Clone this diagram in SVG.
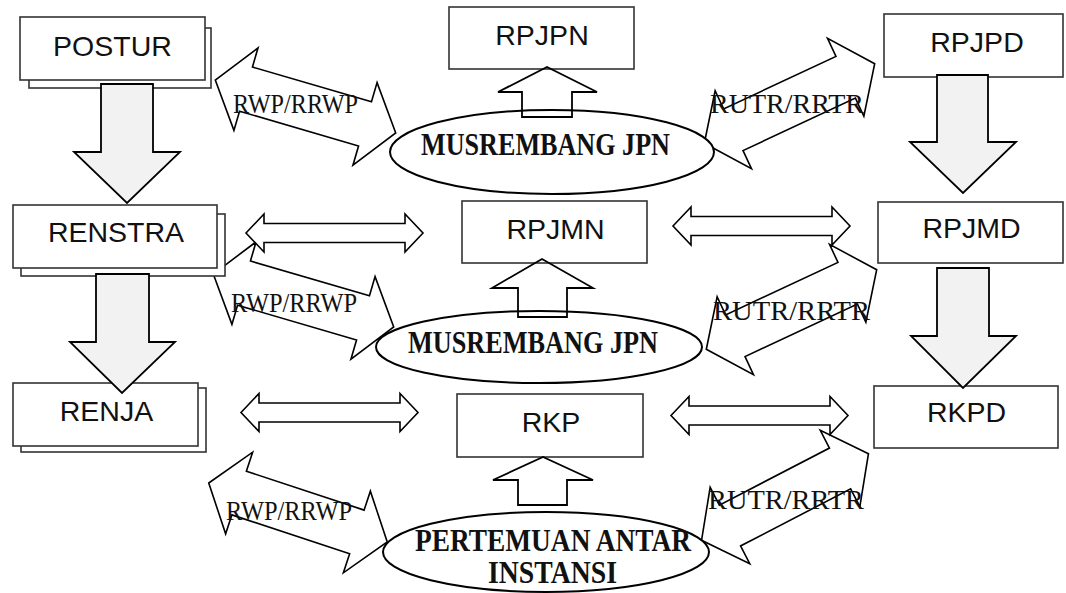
<svg xmlns="http://www.w3.org/2000/svg" width="1066" height="593" viewBox="0 0 1066 593">
<style>
.box{fill:#fff;stroke:#333;stroke-width:1.6}
.big{fill:#fff;stroke:#000;stroke-width:1.6;stroke-linejoin:miter}
.harr{fill:#fff;stroke:#000;stroke-width:1.6}
.ell{fill:#fff;stroke:#000;stroke-width:2}
.up{fill:none;stroke:#000;stroke-width:1.8}
.down{fill:#f2f2f2;stroke:#000;stroke-width:1.8}
.lbl{font-family:"Liberation Sans",Arial,sans-serif;font-size:28.5px;fill:#111;text-anchor:middle}
.et{font-family:"Liberation Serif","Times New Roman",serif;font-weight:bold;font-size:31px;fill:#111}
.rt{font-family:"Liberation Serif","Times New Roman",serif;font-size:28px;fill:#111}
</style>
<defs>
<path id="dbl" d="M-94,0 L-62,-43 L-62,-23 L62,-23 L62,-43 L94,0 L62,43 L62,23 L-62,23 L-62,43 Z"/>
<path id="hdbl" d="M-88.5,0 L-70.5,-19 L-70.5,-9.5 L70.5,-9.5 L70.5,-19 L88.5,0 L70.5,19 L70.5,9.5 L-70.5,9.5 L-70.5,19 Z"/>
</defs>
<g id="connectors">
<use href="#dbl" class="big" transform="translate(305.5,106.5) rotate(16.3)"/>
<use href="#dbl" class="big" transform="translate(303.5,300.5) rotate(16.3)"/>
<use href="#dbl" class="big" transform="translate(298,512.5) rotate(18.3)"/>
<use href="#dbl" class="big" transform="translate(789.5,103.5) rotate(-25)"/>
<use href="#dbl" class="big" transform="translate(791.5,309.5) rotate(-25)"/>
<use href="#dbl" class="big" transform="translate(785,497) rotate(-27.4)"/>
<use href="#hdbl" class="harr" transform="translate(334.5,233)"/>
<use href="#hdbl" class="harr" transform="translate(761.5,226)"/>
<use href="#hdbl" class="harr" transform="translate(329.5,412.5)"/>
<use href="#hdbl" class="harr" transform="translate(759.5,415.5)"/>
</g>
<g id="postur">
<rect class="box" x="29" y="28" width="182" height="60"/>
<rect class="box" x="20" y="17" width="185" height="63"/>
<text class="lbl" x="112.5" y="56">POSTUR</text>
</g>
<g id="renstra">
<rect class="box" x="21" y="214" width="204" height="62"/>
<rect class="box" x="13" y="205" width="204" height="63"/>
<text class="lbl" x="116" y="242">RENSTRA</text>
</g>
<g id="renja">
<rect class="box" x="21" y="388" width="185" height="64"/>
<rect class="box" x="13" y="383" width="185" height="63"/>
<text class="lbl" x="106.5" y="421">RENJA</text>
</g>
<g id="rpjpn">
<rect class="box" x="449" y="7" width="185" height="62"/>
<text class="lbl" x="542" y="45">RPJPN</text>
</g>
<g id="rpjmn">
<rect class="box" x="462" y="201" width="185" height="62"/>
<text class="lbl" x="555.5" y="239">RPJMN</text>
</g>
<g id="rkp">
<rect class="box" x="457" y="394" width="186" height="63"/>
<text class="lbl" x="551" y="432">RKP</text>
</g>
<g id="rpjpd">
<rect class="box" x="884" y="14" width="179" height="63"/>
<text class="lbl" x="977" y="52">RPJPD</text>
</g>
<g id="rpjmd">
<rect class="box" x="878" y="202" width="185" height="61"/>
<text class="lbl" x="971.5" y="238">RPJMD</text>
</g>
<g id="rkpd">
<rect class="box" x="874" y="386" width="184" height="62"/>
<text class="lbl" x="966.5" y="422">RKPD</text>
</g>
<g id="down-arrows">
<path class="down" d="M101,84 L153,84 L153,152 L180,152 L127,203 L74,152 L101,152 Z"/>
<path class="down" d="M96,274 L149,274 L149,342 L175,342 L122,393 L70,342 L96,342 Z"/>
<path class="down" d="M937,75 L988,75 L988,142 L1016,142 L963,193 L910,142 L937,142 Z"/>
<path class="down" d="M937,268 L989,268 L989,336 L1016,336 L963,388 L911,336 L937,336 Z"/>
</g>
<g id="musrembang1">
<ellipse class="ell" cx="552" cy="152" rx="162" ry="42"/>
<text class="et" x="421" y="155" textLength="249" lengthAdjust="spacingAndGlyphs">MUSREMBANG JPN</text>
</g>
<g id="musrembang2">
<ellipse class="ell" cx="539" cy="347" rx="163" ry="36"/>
<text class="et" x="408" y="353" textLength="250" lengthAdjust="spacingAndGlyphs">MUSREMBANG JPN</text>
</g>
<g id="pertemuan">
<ellipse class="ell" cx="546" cy="552" rx="163" ry="40"/>
<text class="et" x="415" y="551" textLength="276" lengthAdjust="spacingAndGlyphs">PERTEMUAN ANTAR</text>
<text class="et" x="488" y="583" textLength="129" lengthAdjust="spacingAndGlyphs">INSTANSI</text>
</g>
<g id="up-arrows">
<path class="up" d="M522,117 L522,92 L498,92 L547,67 L597,92 L572,92 L572,117 Z"/>
<path class="up" d="M518,317 L518,288 L492,288 L542,259 L593,288 L567,288 L567,317 Z"/>
<path class="up" d="M518,505 L518,480 L493,480 L543,457 L593,480 L567,480 L567,505 Z"/>
</g>
<g id="labels">
<text class="rt" x="233" y="113" textLength="125" lengthAdjust="spacingAndGlyphs">RWP/RRWP</text>
<text class="rt" x="231" y="312" textLength="126" lengthAdjust="spacingAndGlyphs">RWP/RRWP</text>
<text class="rt" x="226" y="520" textLength="126" lengthAdjust="spacingAndGlyphs">RWP/RRWP</text>
<text class="rt" x="710" y="113" textLength="154" lengthAdjust="spacingAndGlyphs">RUTR/RRTR</text>
<text class="rt" x="713" y="320" textLength="157" lengthAdjust="spacingAndGlyphs">RUTR/RRTR</text>
<text class="rt" x="708" y="509" textLength="156" lengthAdjust="spacingAndGlyphs">RUTR/RRTR</text>
</g>
</svg>
